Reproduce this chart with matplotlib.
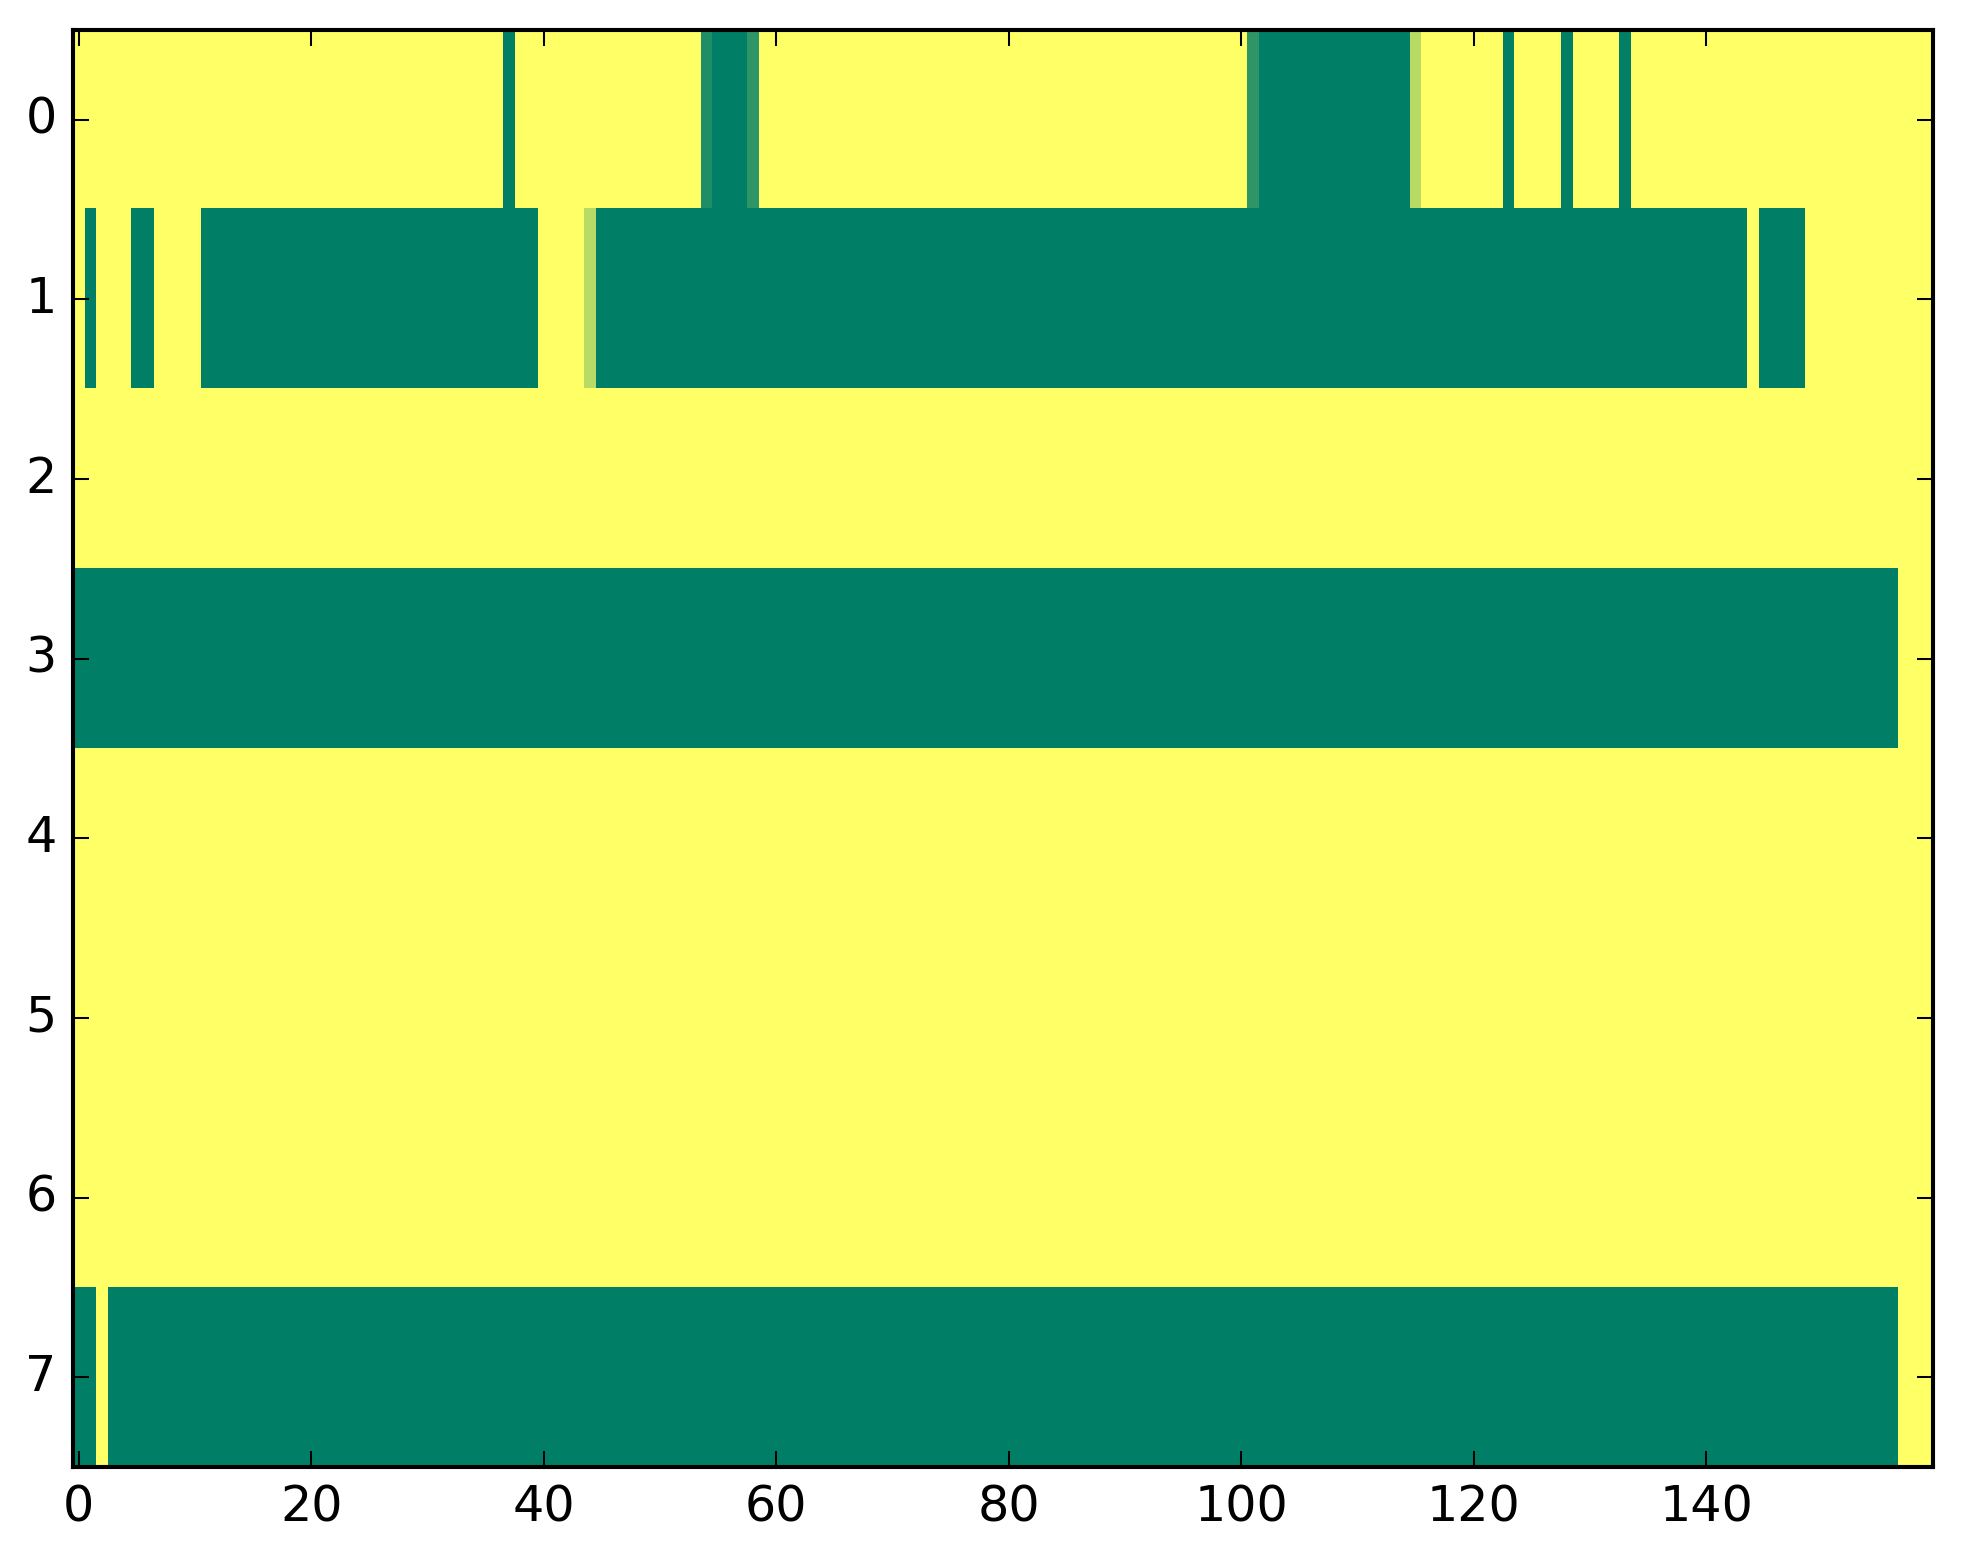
import matplotlib
matplotlib.use("Agg")
import matplotlib.pyplot as plt
import numpy as np

plt.style.use('classic')

n_rows, n_cols = 8, 160

# runs of (first col, last col, value) that differ from 1.0 (yellow)
row0 = [(37, 37, 0.0), (54, 54, 0.12), (55, 57, 0.0), (58, 58, 0.18),
        (101, 101, 0.18), (102, 114, 0.0), (115, 115, 0.72),
        (123, 123, 0.0), (128, 128, 0.0), (133, 133, 0.0)]
row1 = [(1, 1, 0.0), (5, 6, 0.0), (11, 39, 0.0), (44, 44, 0.72),
        (45, 143, 0.0), (145, 148, 0.0)]
row2 = []
row3 = [(0, 156, 0.0)]
row4 = []
row5 = []
row6 = []
row7 = [(0, 1, 0.0), (3, 156, 0.0)]
rows = [row0, row1, row2, row3, row4, row5, row6, row7]

grid = np.ones((n_rows, n_cols))
for r, runs in enumerate(rows):
    for a, b, v in runs:
        grid[r, a:b + 1] = v

dpi = 295
fig = plt.figure(figsize=(1963 / dpi, 1564 / dpi), dpi=dpi)
ax = fig.add_axes([0.0372, 0.062, 0.9475, 0.919])
ax.imshow(grid, cmap='summer', vmin=0, vmax=1, aspect='auto',
          interpolation='nearest')
ax.set_xticks(np.arange(0, 141, 20))
ax.set_yticks(np.arange(0, 8))
ax.set_xlim(-0.5, n_cols - 0.5)
ax.set_ylim(n_rows - 0.5, -0.5)

fig.savefig('out.png', dpi=dpi)
